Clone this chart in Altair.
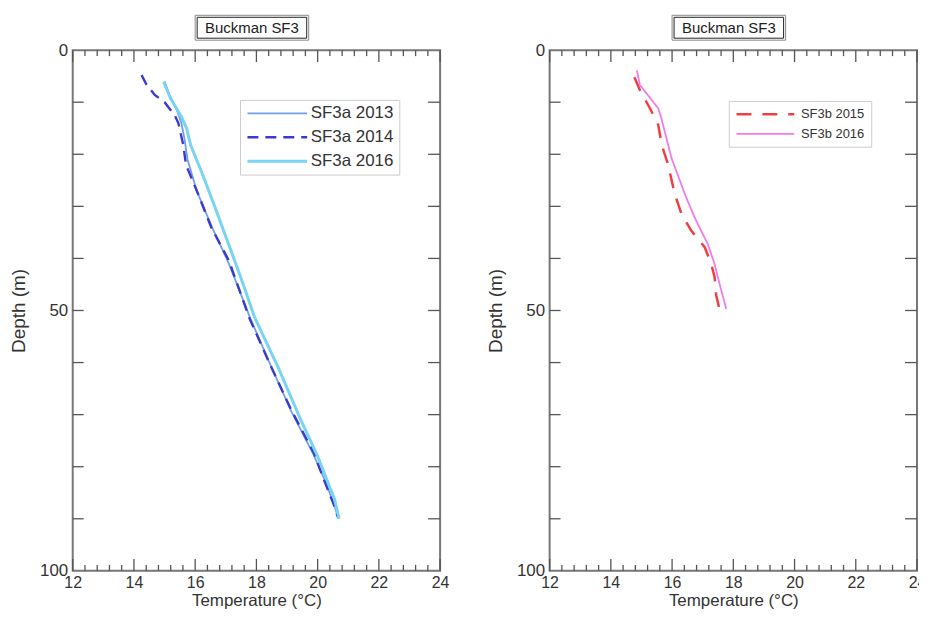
import altair as alt
import pandas as pd

# ---------------- data ----------------
# Left panel: SF3a
sf3a_2013_T = [15.0, 15.15, 15.4, 15.55, 15.65, 15.75, 16.05, 16.55, 17.1, 17.8, 18.5, 19.15, 19.85, 20.25, 20.55, 20.68]
sf3a_2013_D = [6.0, 8.5, 11.5, 14.0, 17.0, 21.0, 27.0, 34.0, 41.0, 51.5, 61.0, 69.5, 77.5, 82.8, 87.5, 90.0]

sf3a_2014_T = [14.25, 14.4, 14.68, 15.0, 15.33, 15.45, 15.61, 15.7, 16.1, 16.53, 17.1, 17.78, 18.48, 19.13, 19.88, 20.2, 20.55, 20.66]
sf3a_2014_D = [4.8, 6.5, 8.6, 10.0, 12.5, 14.0, 18.2, 22.0, 27.7, 34.1, 40.4, 51.6, 60.8, 69.0, 77.4, 82.4, 87.6, 89.7]

sf3a_2016_T = [14.97, 15.2, 15.55, 15.72, 15.85, 16.25, 16.7, 17.2, 17.6, 17.94, 18.7, 19.45, 20.0, 20.3, 20.55, 20.7]
sf3a_2016_D = [6.1, 9.3, 12.8, 15.0, 18.2, 24.0, 31.0, 39.0, 45.5, 51.3, 60.8, 71.0, 78.0, 82.5, 86.2, 90.0]

# Right panel: SF3b
sf3b_2015_T = [14.77, 14.95, 15.28, 15.55, 15.66, 15.87, 16.09, 16.31, 16.63, 17.07, 17.28, 17.39, 17.44, 17.6]
sf3b_2015_D = [5.2, 7.7, 11.2, 14.4, 18.2, 22.0, 27.7, 31.5, 34.7, 37.9, 41.1, 43.6, 47.1, 51.0]

sf3b_2016_T = [14.85, 14.95, 15.55, 15.65, 15.98, 16.42, 16.74, 17.17, 17.39, 17.55, 17.77]
sf3b_2016_D = [3.9, 6.7, 11.2, 13.1, 20.7, 27.7, 32.2, 37.3, 41.1, 44.9, 49.7]

left_series = ["SF3a 2013", "SF3a 2014", "SF3a 2016"]
right_series = ["SF3b 2015", "SF3b 2016"]

major_x = [12, 14, 16, 18, 20, 22, 24]
minor_x = [12.4, 12.8, 13.2, 13.6, 14.4, 14.8, 15.2, 15.6, 16.4, 16.8, 17.2, 17.6,
           18.4, 18.8, 19.2, 19.6, 20.4, 20.8, 21.2, 21.6, 22.4, 22.8, 23.2, 23.6]
y_ticks = [10, 20, 30, 40, 50, 60, 70, 80, 90]
y_labels = [0, 50, 100]
panel_title = "Buckman SF3"


def long_df(names, Ts, Ds):
    rows = []
    for n, T, D in zip(names, Ts, Ds):
        for t, d in zip(T, D):
            rows.append({"series": n, "T": t, "depth": d})
    return pd.DataFrame(rows)


left_df = long_df(left_series, [sf3a_2013_T, sf3a_2014_T, sf3a_2016_T], [sf3a_2013_D, sf3a_2014_D, sf3a_2016_D])
right_df = long_df(right_series, [sf3b_2015_T, sf3b_2016_T], [sf3b_2015_D, sf3b_2016_D])

W, H = 369, 523
FONT = "Liberation Sans"
TXT = "#333333"

xaxis = alt.Axis(values=major_x, title="Temperature (°C)", ticks=False, domain=False, grid=False,
                 labelFlush=False, labelFontSize=16, labelPadding=4, labelColor=TXT, labelFont=FONT,
                 titleFontSize=17, titleFontWeight="normal", titleColor=TXT, titleFont=FONT, titlePadding=2)
yaxis = alt.Axis(values=y_labels, title="Depth (m)", ticks=False, domain=False, grid=False,
                 labelFontSize=17, labelPadding=5, labelColor=TXT, labelFont=FONT,
                 titleFontSize=19, titleFontWeight="normal", titleColor=TXT, titleFont=FONT, titlePadding=11)
xscale = alt.Scale(domain=[12, 24], nice=False, zero=False)
yscale = alt.Scale(domain=[0, 100], reverse=True, nice=False, zero=False)


def X(field="T"):
    return alt.X(f"{field}:Q", scale=xscale, axis=xaxis)


def Y(field="depth"):
    return alt.Y(f"{field}:Q", scale=yscale, axis=yaxis)


def frame_layers():
    tick_col = "#555555"
    majors = pd.DataFrame({"T": major_x})
    minors = pd.DataFrame({"T": minor_x})
    ydf = pd.DataFrame({"depth": y_ticks})
    layers = []
    for df, ln in [(majors, 12), (minors, 6)]:
        layers.append(alt.Chart(df).mark_rule(color=tick_col, strokeWidth=1.3).encode(
            x=X(), y=alt.value(H), y2=alt.value(H - ln)))
        layers.append(alt.Chart(df).mark_rule(color=tick_col, strokeWidth=1.3).encode(
            x=X(), y=alt.value(0), y2=alt.value(ln)))
    layers.append(alt.Chart(ydf).mark_rule(color=tick_col, strokeWidth=1.3).encode(
        y=Y(), x=alt.value(0), x2=alt.value(11)))
    layers.append(alt.Chart(ydf).mark_rule(color=tick_col, strokeWidth=1.3).encode(
        y=Y(), x=alt.value(W), x2=alt.value(W - 12)))
    return layers


def title_layers():
    tdf = pd.DataFrame({"label": [panel_title]})
    base = alt.Chart(tdf)
    return [
        base.mark_rect(fill="white", stroke="#888888", strokeWidth=1).encode(
            x=alt.value(123), x2=alt.value(237), y=alt.value(-35), y2=alt.value(-10)),
        base.mark_rect(fill="white", stroke="#222222", strokeWidth=1).encode(
            x=alt.value(125), x2=alt.value(235), y=alt.value(-33), y2=alt.value(-12)),
        base.mark_text(font=FONT, fontSize=15, color="#222222", baseline="middle", align="center").encode(
            x=alt.value(180), y=alt.value(-22.5), text="label:N"),
    ]


def panel(df, names, colors, dashes, widths, lx, ly, lfs, row_pad, sym_len, pad, gap):
    # custom symbol path: horizontal stroke from the left edge of the symbol slot, 10*r long (r = sqrt(size)/2)
    r = sym_len / 10.0
    sym_size = (2 * r) ** 2
    leg = alt.Legend(title=None, orient="none", legendX=lx, legendY=ly, fillColor="white",
                     strokeColor="#cccccc", padding=pad, labelFontSize=lfs, labelFont=FONT,
                     labelColor=TXT, symbolType="M-1,0H9", symbolSize=sym_size, symbolStrokeWidth=2.5,
                     rowPadding=row_pad, labelOffset=sym_len - 2 * r + gap,
                     symbolFillColor="transparent")
    lines = alt.Chart(df).mark_line(strokeCap="butt").encode(
        x=X(), y=Y(),
        color=alt.Color("series:N", scale=alt.Scale(domain=names, range=colors), legend=leg),
        strokeDash=alt.StrokeDash("series:N", scale=alt.Scale(domain=names, range=dashes), legend=leg),
        strokeWidth=alt.StrokeWidth("series:N", scale=alt.Scale(domain=names, range=widths), legend=None),
        order=alt.Order("depth:Q"),
    )
    return alt.layer(*frame_layers(), lines, *title_layers()).properties(width=W, height=H)


left = panel(left_df, left_series, ["#6f9fe6", "#3a3ad0", "#78d4f2"],
             [[1, 0], [11, 7], [1, 0]], [1.8, 3, 1.6], 168, 50, 17, 6, 60, 5, 1)
right = panel(right_df, right_series, ["#ee4040", "#ee7cee"],
              [[15, 11], [1, 0]], [2.5, 1.8], 180, 51, 13, 5, 58, 6, 5)

chart = alt.hconcat(left, right, spacing=35).resolve_scale(
    color="independent", strokeDash="independent", strokeWidth="independent"
).properties(
    padding={"left": 0, "top": 4, "right": -8, "bottom": 0}
).configure_view(stroke="#777777", strokeWidth=2)

chart.save("out.html", embed_options={"renderer": "svg", "actions": False})
